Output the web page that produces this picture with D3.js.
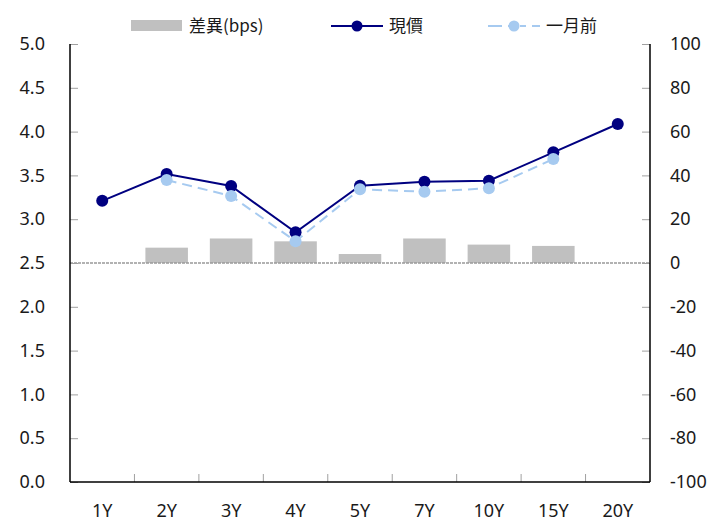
<!DOCTYPE html>
<html>
<head>
<meta charset="utf-8">
<script src="https://cdn.jsdelivr.net/npm/d3@7"></script>
<style>
  html, body { margin: 0; padding: 0; background: #fff; }
  svg { display: block; }
  text { font-family: "Noto Sans", "Noto Sans CJK TC", sans-serif; fill: #1a1a1a; }
  .cjk { font-family: "Noto Sans CJK TC", "Noto Sans", sans-serif; }
</style>
</head>
<body>
<svg id="chart" width="715" height="522"></svg>
<script>
// Tenors on the curve
const tenors = ["1Y", "2Y", "3Y", "4Y", "5Y", "7Y", "10Y", "15Y", "20Y"];
// Current yields (%)
const currentYield = [3.21, 3.516, 3.379, 2.85, 3.383, 3.428, 3.44, 3.763, 4.087];
// Yields one month earlier (%); no quote for 1Y and 20Y
const monthAgoYield = [null, 3.447, 3.265, 2.748, 3.341, 3.314, 3.353, 3.687, null];
// Change over the month (bps)
const diffBps = [null, 7.0, 11.2, 9.9, 4.1, 11.2, 8.4, 7.8, null];
// Axis ticks
const leftTicks = [0, 0.5, 1, 1.5, 2, 2.5, 3, 3.5, 4, 4.5, 5];
const rightTicks = [-100, -80, -60, -40, -20, 0, 20, 40, 60, 80, 100];
// Legend labels
const legendLabels = ["差異(bps)", "現價", "一月前"];

const colors = { bar: "#c0c0c0", current: "#000080", monthAgo: "#a6caf0", tick: "#a0a0a0" };

const svg = d3.select("#chart");
const plotL = 70, plotR = 650, plotT = 44, plotB = 482;

const x = d3.scaleBand().domain(tenors).range([plotL, plotR]).paddingInner(0).paddingOuter(0);
const yL = d3.scaleLinear().domain([0, 5]).range([plotB, plotT]);
const yR = d3.scaleLinear().domain([-100, 100]).range([plotB, plotT]);

// Bars: monthly change on the right axis
const barW = x.bandwidth() * 0.66;
svg.append("g").selectAll("rect")
  .data(tenors.map((t, i) => ({ t, v: diffBps[i] })).filter(d => d.v != null))
  .join("rect")
  .attr("x", d => x(d.t) + (x.bandwidth() - barW) / 2)
  .attr("width", barW)
  .attr("y", d => yR(Math.max(0, d.v)))
  .attr("height", d => Math.abs(yR(d.v) - yR(0)))
  .attr("fill", colors.bar);

// Zero line of the right axis
svg.append("line")
  .attr("x1", plotL).attr("x2", plotR)
  .attr("y1", yR(0)).attr("y2", yR(0))
  .attr("stroke", "#999").attr("stroke-width", 1.5)
  .attr("stroke-dasharray", "3,1");

// Left axis
const axL = svg.append("g").attr("transform", `translate(${plotL},0)`)
  .call(d3.axisLeft(yL).tickValues(leftTicks).tickSize(-8).tickPadding(25).tickFormat(d3.format(".1f")));
// Right axis
const axR = svg.append("g").attr("transform", `translate(${plotR},0)`)
  .call(d3.axisRight(yR).tickValues(rightTicks).tickSize(-8).tickPadding(20).tickFormat(d => d < 0 ? "-" + Math.abs(d) : d));
// Bottom axis: labels centred on bands, ticks at band edges
const axB = svg.append("g").attr("transform", `translate(0,${plotB})`)
  .call(d3.axisBottom(x).tickSize(0).tickPadding(22));
svg.append("g").selectAll("line")
  .data(tenors.slice(1))
  .join("line")
  .attr("x1", d => x(d)).attr("x2", d => x(d))
  .attr("y1", plotB).attr("y2", plotB - 8)
  .attr("stroke", colors.tick);

[axL, axR, axB].forEach(g => {
  g.select(".domain").remove();
  g.selectAll(".tick line").attr("stroke", colors.tick);
  g.selectAll("text").attr("font-size", 18).attr("fill", "#1a1a1a")
    .attr("font-family", "'Noto Sans', sans-serif");
});

// Axis frame lines
svg.append("line").attr("x1", plotL).attr("x2", plotL).attr("y1", plotT).attr("y2", plotB).attr("stroke", "#000").attr("stroke-width", 1.5);
svg.append("line").attr("x1", plotR).attr("x2", plotR).attr("y1", plotT).attr("y2", plotB).attr("stroke", "#000").attr("stroke-width", 1.5);
svg.append("line").attr("x1", plotL).attr("x2", plotR).attr("y1", plotB).attr("y2", plotB).attr("stroke", "#000").attr("stroke-width", 1.5);

const cx = t => x(t) + x.bandwidth() / 2;

// Current curve
const curPts = tenors.map((t, i) => ({ t, v: currentYield[i] }));
svg.append("path")
  .datum(curPts)
  .attr("fill", "none").attr("stroke", colors.current).attr("stroke-width", 2)
  .attr("d", d3.line().x(d => cx(d.t)).y(d => yL(d.v)));
svg.append("g").selectAll("circle").data(curPts).join("circle")
  .attr("cx", d => cx(d.t)).attr("cy", d => yL(d.v)).attr("r", 6)
  .attr("fill", colors.current);

// Curve one month earlier
const agoPts = tenors.map((t, i) => ({ t, v: monthAgoYield[i] })).filter(d => d.v != null);
svg.append("path")
  .datum(agoPts)
  .attr("fill", "none").attr("stroke", colors.monthAgo).attr("stroke-width", 2)
  .attr("stroke-dasharray", "10,6")
  .attr("d", d3.line().x(d => cx(d.t)).y(d => yL(d.v)));
svg.append("g").selectAll("circle").data(agoPts).join("circle")
  .attr("cx", d => cx(d.t)).attr("cy", d => yL(d.v)).attr("r", 6)
  .attr("fill", colors.monthAgo);

// Legend
const lg = svg.append("g");
const ly = 26;
lg.append("rect").attr("x", 131).attr("y", ly - 6).attr("width", 51).attr("height", 11).attr("fill", colors.bar);
lg.append("text").attr("class", "cjk").attr("x", 189).attr("y", ly).attr("dy", "0.35em").attr("font-size", 17).text(legendLabels[0]);

lg.append("line").attr("x1", 331).attr("x2", 383).attr("y1", ly).attr("y2", ly).attr("stroke", colors.current).attr("stroke-width", 2);
lg.append("circle").attr("cx", 357).attr("cy", ly).attr("r", 5.5).attr("fill", colors.current);
lg.append("text").attr("class", "cjk").attr("x", 389).attr("y", ly).attr("dy", "0.35em").attr("font-size", 17).text(legendLabels[1]);

lg.append("line").attr("x1", 488).attr("x2", 540).attr("y1", ly).attr("y2", ly).attr("stroke", colors.monthAgo).attr("stroke-width", 2).attr("stroke-dasharray", "14,6,6,6,6,6");
lg.append("circle").attr("cx", 514).attr("cy", ly).attr("r", 5.5).attr("fill", colors.monthAgo);
lg.append("text").attr("class", "cjk").attr("x", 546).attr("y", ly).attr("dy", "0.35em").attr("font-size", 17).text(legendLabels[2]);
</script>
</body>
</html>
